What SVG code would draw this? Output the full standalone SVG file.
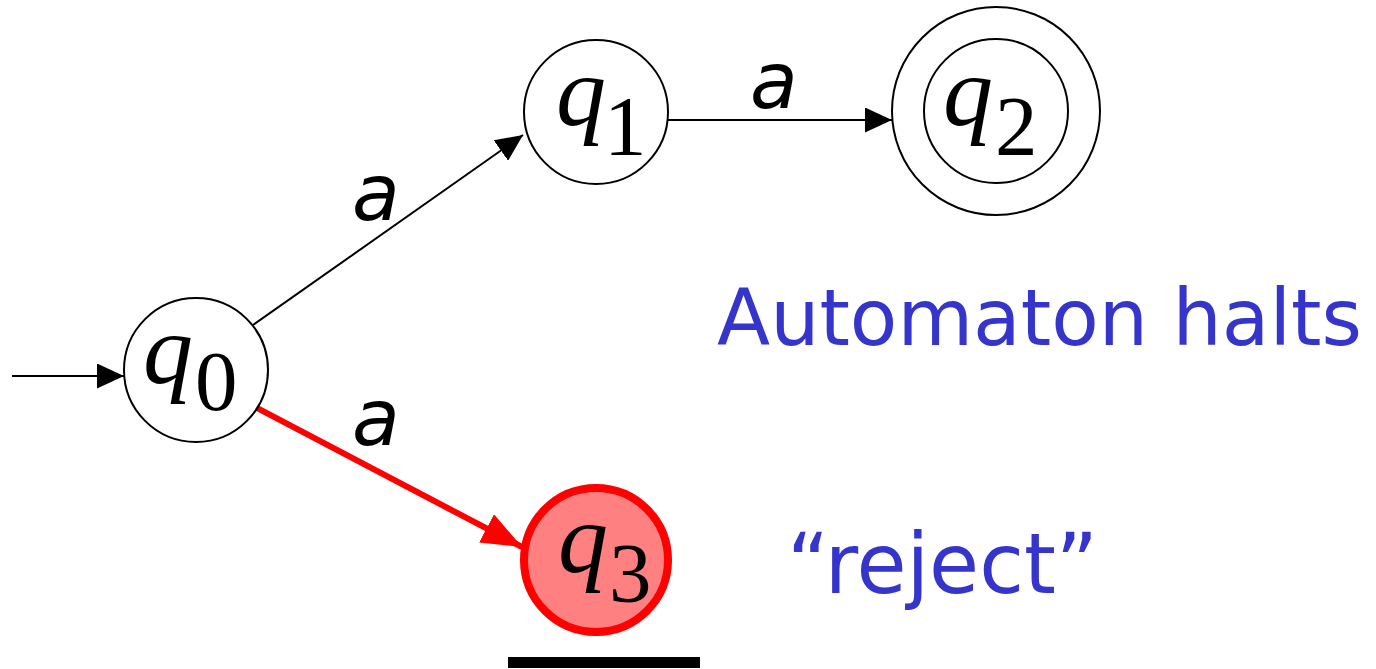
<svg xmlns="http://www.w3.org/2000/svg" width="1376" height="669" viewBox="0 0 1376 669">
  <style>
    .state { fill: #ffffff; stroke: #000000; stroke-width: 2; }
    .reject { fill: #ff8080; stroke: #ff0000; stroke-width: 8; }
    .q { font-family: "Liberation Serif", "Times New Roman", serif; font-style: italic; font-size: 100px; fill: #000000; }
    .sub { font-family: "Liberation Serif", "Times New Roman", serif; font-size: 85px; fill: #000000; }
    .edge { fill: none; stroke: #000000; stroke-width: 2; }
    .edge-red { fill: none; stroke: #ff0000; stroke-width: 6; }
    .lbl { font-family: "Comic Sans MS", "DejaVu Sans", sans-serif; font-style: oblique; font-size: 78px; fill: #000000; }
    .note { font-family: "Comic Sans MS", "DejaVu Sans", sans-serif; font-size: 84px; fill: #3535cc; }
    .note-wide { font-size: 78px; }
  </style>
  <defs>
    <marker id="arrow" markerUnits="userSpaceOnUse" markerWidth="27" markerHeight="25" refX="27" refY="12.5" orient="auto">
      <path d="M0,0 L27,12.5 L0,25 z" fill="#000000"/>
    </marker>
    <marker id="arrow-red" markerUnits="userSpaceOnUse" markerWidth="40" markerHeight="32" refX="40" refY="16" orient="auto">
      <path d="M0,0 L40,16 L0,32 z" fill="#ff0000"/>
    </marker>
  </defs>

  <g id="connectors">
    <line class="edge" x1="12" y1="376" x2="124" y2="376" marker-end="url(#arrow)"/>
    <line class="edge" x1="253" y1="325" x2="523" y2="135" marker-end="url(#arrow)"/>
    <line class="edge" x1="668" y1="120" x2="892" y2="120" marker-end="url(#arrow)"/>
    <line class="edge-red" x1="255" y1="407" x2="522" y2="547" marker-end="url(#arrow-red)"/>
    <text class="lbl" x="352" y="220">a</text>
    <text class="lbl" x="750" y="108">a</text>
    <text class="lbl" x="352" y="445">a</text>
  </g>

  <g id="q0">
    <circle class="state" cx="196" cy="370" r="72"/>
    <text class="q" x="143" y="383">q</text>
    <text class="sub" x="195" y="410">0</text>
  </g>

  <g id="q1">
    <circle class="state" cx="596" cy="112" r="72"/>
    <text class="q" x="556" y="125">q</text>
    <text class="sub" x="604" y="155">1</text>
  </g>

  <g id="q2">
    <circle class="state" cx="996" cy="111" r="104"/>
    <circle class="state" cx="996" cy="111" r="72"/>
    <text class="q" x="943" y="125">q</text>
    <text class="sub" x="995" y="155">2</text>
  </g>

  <g id="q3">
    <circle class="reject" cx="596" cy="560" r="72"/>
    <text class="q" x="558" y="572">q</text>
    <text class="sub" x="609" y="602">3</text>
  </g>

  <text class="note note-wide" x="717" y="345" textLength="645" lengthAdjust="spacingAndGlyphs">Automaton halts</text>
  <text class="note" x="787" y="593" textLength="311" lengthAdjust="spacingAndGlyphs">“reject”</text>

  <rect x="508" y="657" width="192" height="11" fill="#000000"/>
</svg>
